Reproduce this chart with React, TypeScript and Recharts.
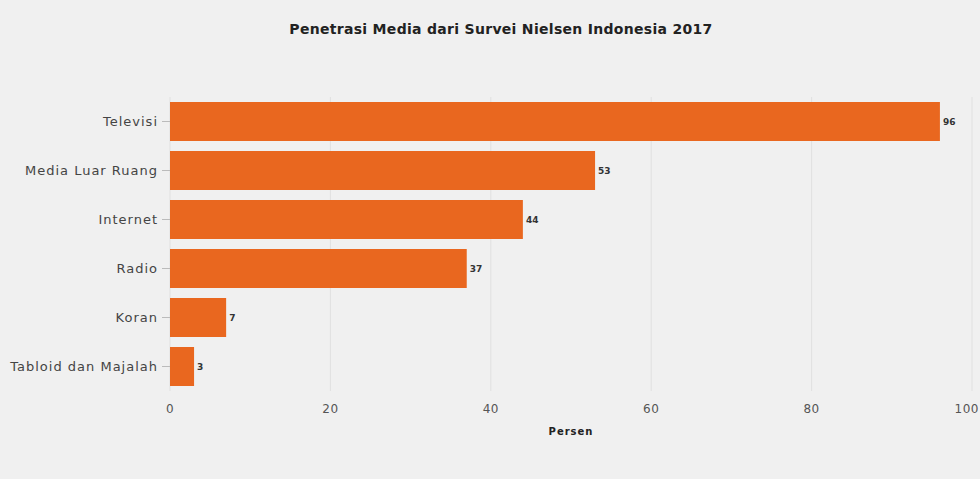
import {
  BarChart,
  Bar,
  XAxis,
  YAxis,
  CartesianGrid,
  LabelList,
  Label,
} from "recharts";

const categories = [
  "Televisi",
  "Media Luar Ruang",
  "Internet",
  "Radio",
  "Koran",
  "Tabloid dan Majalah",
];
const values = [96, 53, 44, 37, 7, 3];
const xTicks = [0, 20, 40, 60, 80, 100];

const data = categories.map((label, i) => ({ label, value: values[i] }));

const FONT = "'DejaVu Sans', Verdana, sans-serif";
const BAR_COLOR = "#e9671f";

export default function App() {
  return (
    <div
      style={{
        position: "absolute",
        left: 0,
        top: 0,
        width: 980,
        height: 479,
        background: "#f0f0f0",
        fontFamily: FONT,
      }}
    >
      <div
        style={{
          position: "absolute",
          top: 21,
          left: 0,
          width: 1002,
          textAlign: "center",
          fontSize: 14,
          letterSpacing: 0.3,
          fontWeight: "bold",
          color: "#222",
        }}
      >
        Penetrasi Media dari Survei Nielsen Indonesia 2017
      </div>
      <BarChart
        width={980}
        height={479}
        layout="vertical"
        data={data}
        barCategoryGap="10%"
        margin={{ top: 97, right: 8, left: 0, bottom: 38 }}
      >
        <CartesianGrid horizontal={false} stroke="#e0e0e0" />
        <XAxis
          type="number"
          domain={[0, 100]}
          ticks={xTicks}
          axisLine={false}
          tickLine={false}
          tickMargin={7}
          height={50}
          tick={{ fontSize: 12, fill: "#555", fontFamily: FONT, letterSpacing: 0.5 }}
        >
          <Label
            value="Persen"
            position="insideBottom"
            offset={6}
            style={{ fontSize: 10, fontWeight: "bold", fill: "#222", fontFamily: FONT, letterSpacing: 1 }}
          />
        </XAxis>
        <YAxis
          type="category"
          dataKey="label"
          width={170}
          axisLine={false}
          tickSize={8}
          tickMargin={4}
          tickLine={{ stroke: "#bbb" }}
          tick={{ fontSize: 13, fill: "#444", fontFamily: FONT, letterSpacing: 1 }}
        />
        <Bar dataKey="value" fill={BAR_COLOR} isAnimationActive={false}>
          <LabelList
            dataKey="value"
            position="right"
            offset={3}
            style={{ fontSize: 9, fontWeight: "bold", fill: "#333", fontFamily: FONT }}
          />
        </Bar>
      </BarChart>
    </div>
  );
}
